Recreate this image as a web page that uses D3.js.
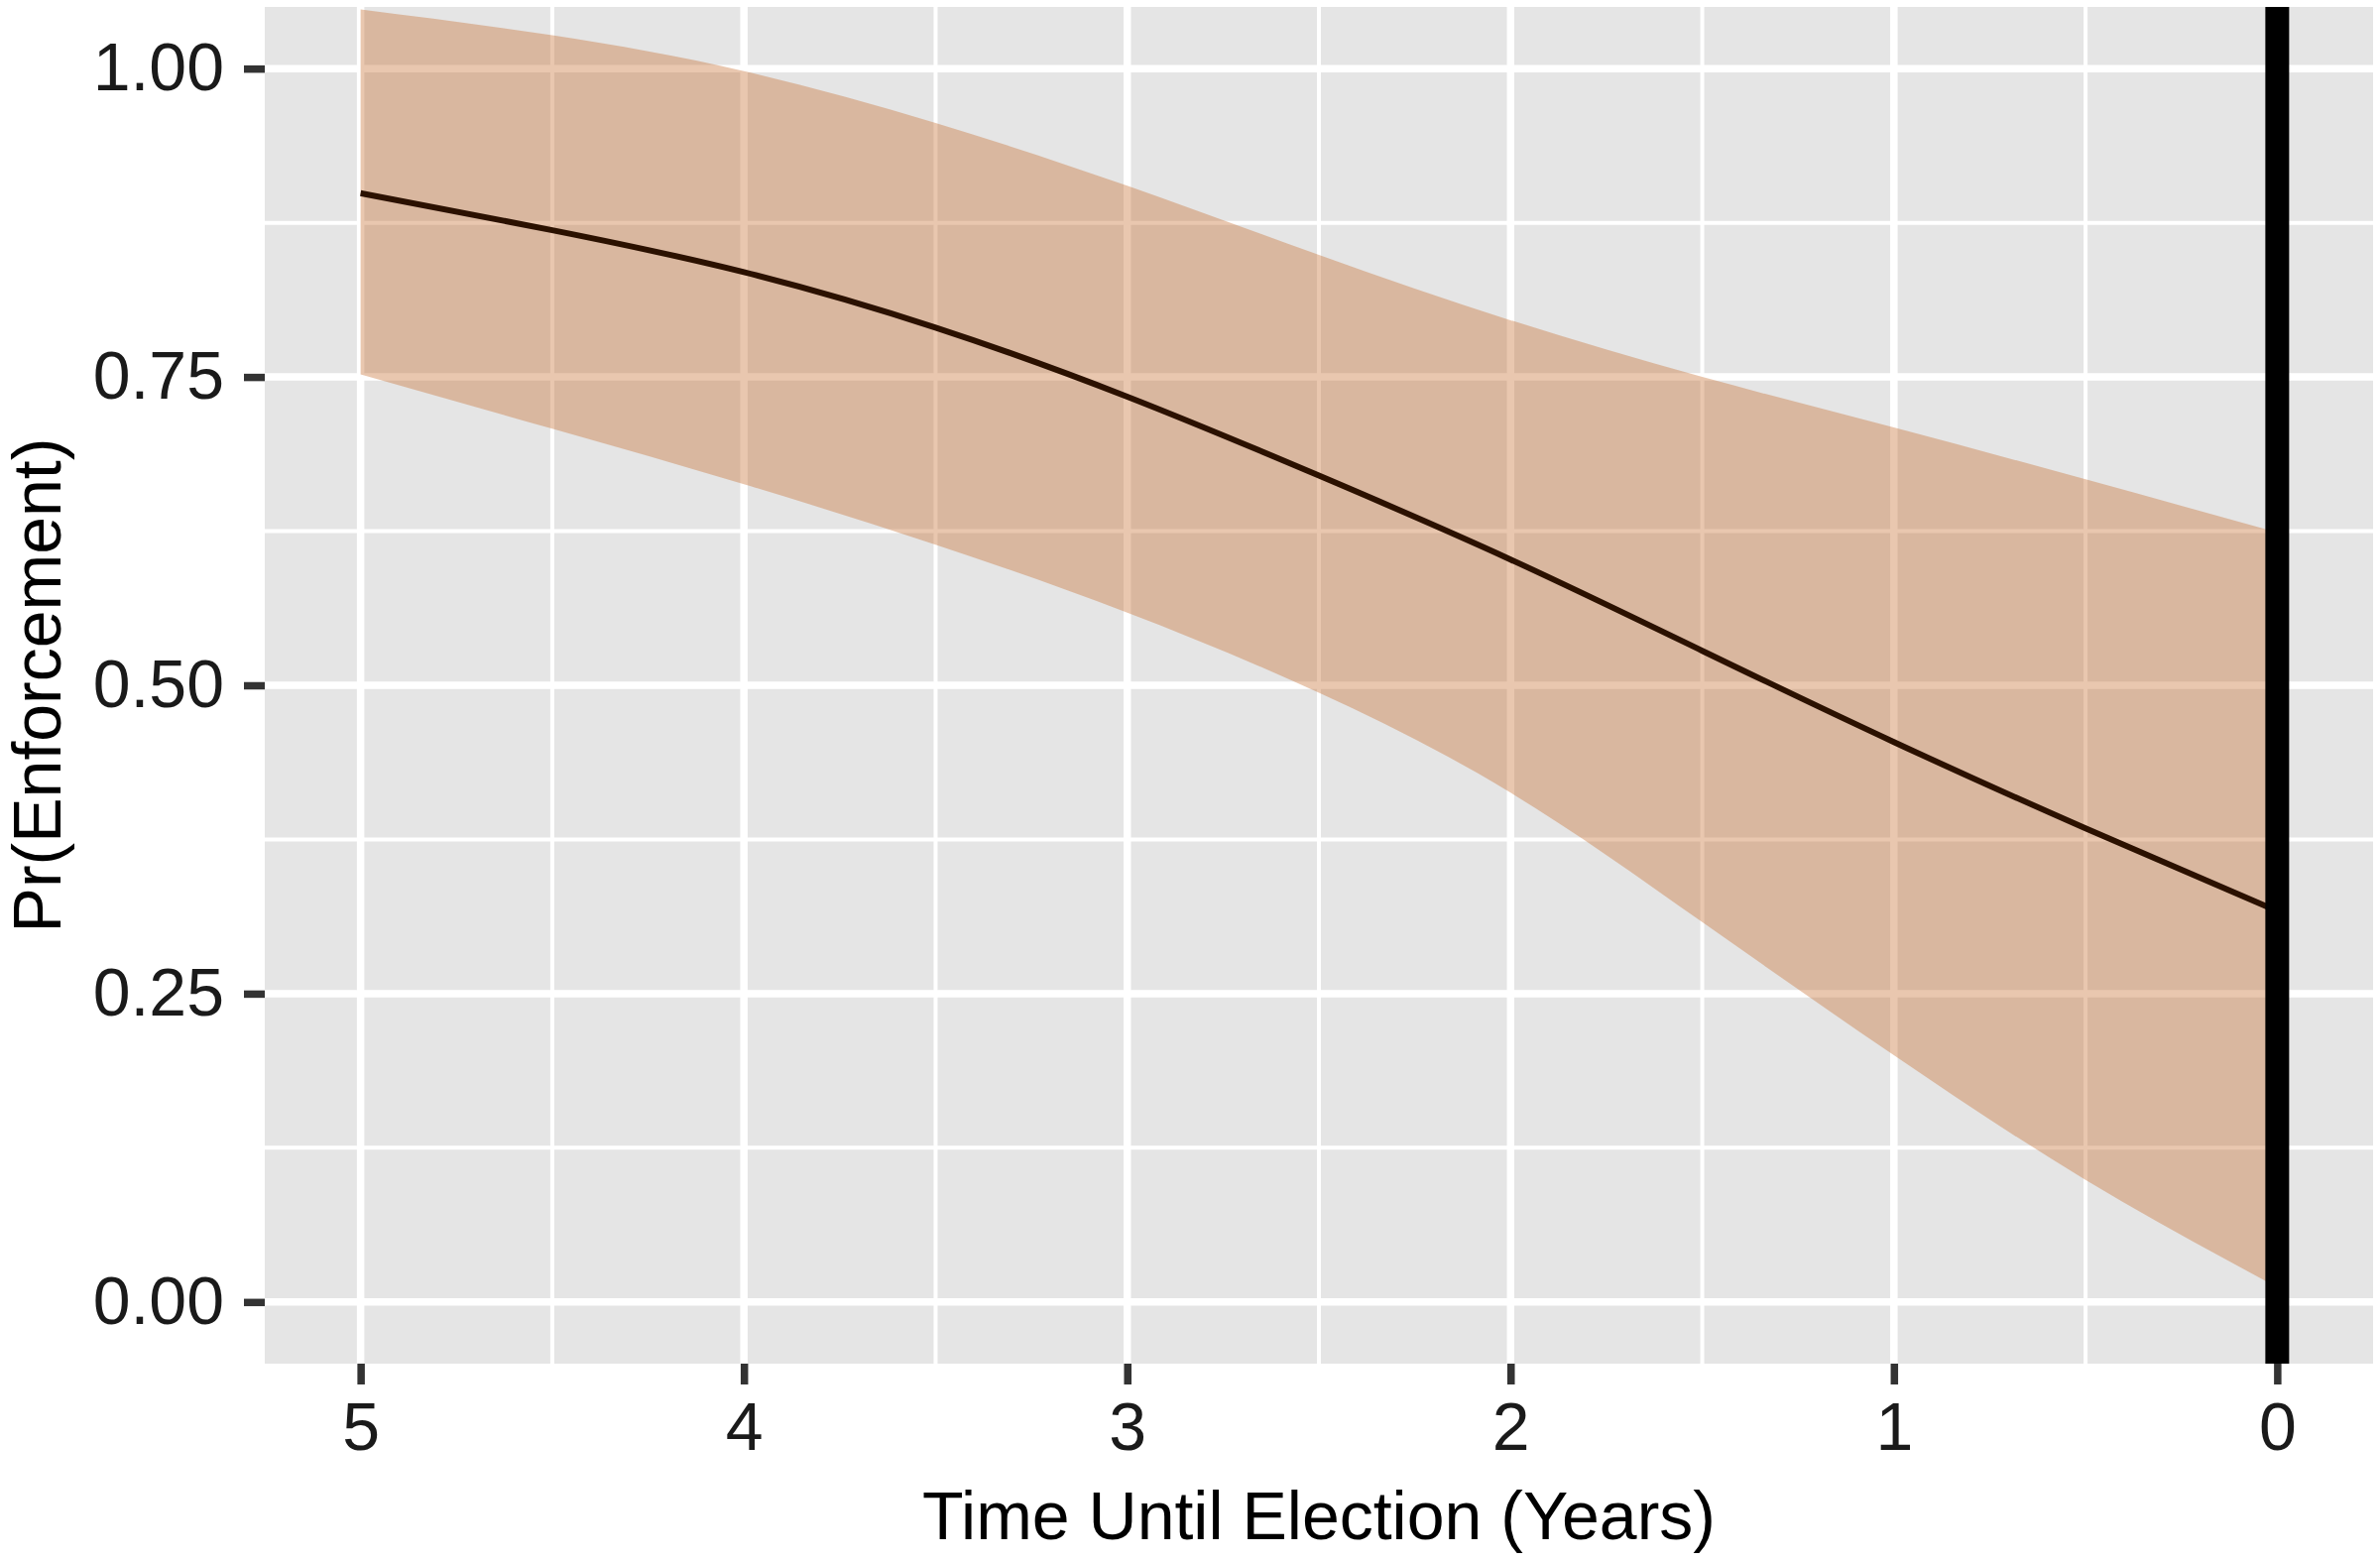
<!DOCTYPE html>
<meta charset="utf-8">
<head>
  <title>Pr(Enforcement) by time until election</title>
  <style>
    body { margin: 0; background: #fff; }
    text { font-family: "Liberation Sans", Arial, Helvetica, sans-serif; }
  </style>
</head>

<body>
  <script src="https://d3js.org/d3.v7.min.js"></script>

  <script>

// years until election, fitted probability and its interval
const years = [5, 4.5, 4, 3.5, 3, 2.5, 2, 1.5, 1, 0.5, 0];
const fit   = [0.899, 0.869, 0.835, 0.790, 0.734, 0.670, 0.602, 0.528, 0.454, 0.384, 0.317];
const upper = [1.048, 1.027, 0.998, 0.956, 0.905, 0.849, 0.796, 0.750, 0.709, 0.667, 0.624];
const lower = [0.752, 0.708, 0.663, 0.614, 0.559, 0.494, 0.413, 0.308, 0.200, 0.099, 0.012];

const xTicks = [5, 4, 3, 2, 1, 0];
const xMinor = [4.5, 3.5, 2.5, 1.5, 0.5];
const yTicks = [0, 0.25, 0.5, 0.75, 1];
const yMinor = [0.125, 0.375, 0.625, 0.875];
const electionAt = 0;

const rows = years.map((t, i) => ({ t: t, fit: fit[i], lo: lower[i], hi: upper[i] }));

const totalWidth = 2400, totalHeight = 1574,
      margin = {top: 7, right: 7, bottom: 199, left: 267},
      width = totalWidth - margin.left - margin.right,
      height = totalHeight - margin.top - margin.bottom;

const svg = d3.select("body")
    .append("svg")
    .attr("width", totalWidth)
    .attr("height", totalHeight);

const g = svg.append("g")
    .attr("transform", "translate(" + margin.left + "," + margin.top + ")");

// reversed axis: 5 years on the left, election day on the right
const x = d3.scaleLinear()
    .domain([5.25, -0.25])
    .range([0, width]);

const y = d3.scaleLinear()
    .domain([-0.05, 1.05])
    .range([height, 0]);

g.append("clipPath").attr("id", "panel")
  .append("rect").attr("width", width).attr("height", height);

// panel background
g.append("rect")
  .attr("width", width)
  .attr("height", height)
  .style("fill", "#e5e5e5");

// grid
const grid = g.append("g");
grid.selectAll(".ym").data(yMinor).enter().append("line")
  .attr("x1", 0).attr("x2", width)
  .attr("y1", d => y(d)).attr("y2", d => y(d))
  .style("stroke", "#fff").style("stroke-width", 4);
grid.selectAll(".xm").data(xMinor).enter().append("line")
  .attr("y1", 0).attr("y2", height)
  .attr("x1", d => x(d)).attr("x2", d => x(d))
  .style("stroke", "#fff").style("stroke-width", 4);
grid.selectAll(".yM").data(yTicks).enter().append("line")
  .attr("x1", 0).attr("x2", width)
  .attr("y1", d => y(d)).attr("y2", d => y(d))
  .style("stroke", "#fff").style("stroke-width", 7.5);
grid.selectAll(".xM").data(xTicks).enter().append("line")
  .attr("y1", 0).attr("y2", height)
  .attr("x1", d => x(d)).attr("x2", d => x(d))
  .style("stroke", "#fff").style("stroke-width", 7.5);

// confidence ribbon
const ribbon = d3.area()
  .x(d => x(d.t))
  .y0(d => y(d.lo))
  .y1(d => y(d.hi))
  .curve(d3.curveNatural);

g.append("path")
  .attr("clip-path", "url(#panel)")
  .attr("d", ribbon(rows))
  .style("fill", "rgb(201,116,56)")
  .style("fill-opacity", 0.4);

// fitted line
const line = d3.line()
  .x(d => x(d.t))
  .y(d => y(d.fit))
  .curve(d3.curveNatural);

g.append("path")
  .attr("d", line(rows))
  .style("fill", "none")
  .style("stroke", "#2b1100")
  .style("stroke-width", 6);

// election day
g.append("line")
  .attr("x1", x(electionAt)).attr("x2", x(electionAt))
  .attr("y1", 0).attr("y2", height)
  .style("stroke", "#000")
  .style("stroke-width", 24);

// axes
const xAxis = g.append("g")
  .attr("transform", "translate(0," + height + ")")
  .call(d3.axisBottom(x).tickValues(xTicks).tickSize(21).tickPadding(18).tickFormat(d3.format("d")));

const yAxis = g.append("g")
  .call(d3.axisLeft(y).tickValues(yTicks).tickSize(21).tickPadding(20).tickFormat(d3.format(".2f")));

[xAxis, yAxis].forEach(a => {
  a.select(".domain").remove();
  a.selectAll(".tick line").style("stroke", "#333").style("stroke-width", 7.5);
  a.selectAll(".tick text")
    .style("font-family", '"Liberation Sans", Arial, sans-serif')
    .style("font-size", "68px")
    .style("fill", "#1a1a1a");
});

// axis titles
svg.append("text")
  .attr("x", margin.left + width / 2)
  .attr("y", 1552)
  .attr("text-anchor", "middle")
  .style("font-size", "68px")
  .style("fill", "#000")
  .text("Time Until Election (Years)");

svg.append("text")
  .attr("transform", "translate(61," + (margin.top + height / 2) + ") rotate(-90)")
  .attr("text-anchor", "middle")
  .style("font-size", "68px")
  .style("fill", "#000")
  .text("Pr(Enforcement)");

  </script>
</body>
</html>
